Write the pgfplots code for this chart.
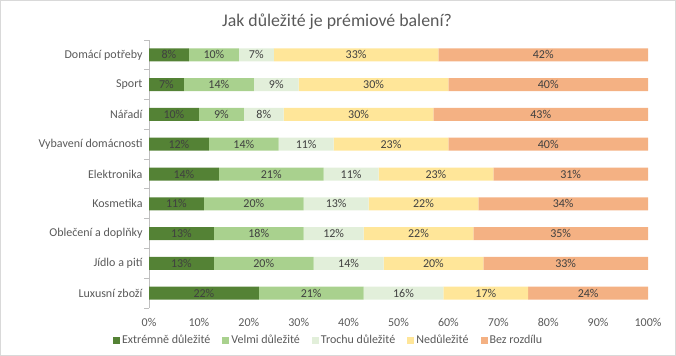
\documentclass[border=0pt]{standalone}
\usepackage{pgfplots}
\pgfplotsset{compat=1.18}
\usepackage{pgfplotstable}
\usepackage{fontspec}
\setmainfont{Carlito}
\definecolor{c1}{HTML}{548235}
\definecolor{c2}{HTML}{A9D18E}
\definecolor{c3}{HTML}{E2EFDA}
\definecolor{c4}{HTML}{FFE699}
\definecolor{c5}{HTML}{F4B183}
\definecolor{txt}{HTML}{595959}
\definecolor{lbl}{HTML}{404040}
\pgfplotstableread{
idx a b c d e
0 8 10 7 33 42
1 7 14 9 30 40
2 10 9 8 30 43
3 12 14 11 23 40
4 14 21 11 23 31
5 11 20 13 22 34
6 13 18 12 22 35
7 13 20 14 20 33
8 22 21 16 17 24
}\data
\begin{document}
\begin{tikzpicture}
\path[draw=black!15, line width=1bp] (0.5bp,0.5bp) rectangle (675.5bp,355.5bp);
\node[font=\fontsize{17.8bp}{21bp}\selectfont, text=txt] at (337bp,334bp) {Jak důležité je prémiové balení?};
\begin{axis}[
  at={(149bp,48bp)}, anchor=south west,
  scale only axis, width=499bp, height=268bp,
  xbar stacked, bar width=13bp,
  xmin=0, xmax=100, ymin=-0.5, ymax=8.5,
  y dir=reverse,
  axis y line*=left, axis x line*=bottom,
  x axis line style={draw=none},
  y axis line style={draw=black!25, line width=0.8bp},
  ytick={0,...,8},
  yticklabels={Domácí potřeby, Sport, Nářadí, Vybavení domácnosti, Elektronika, Kosmetika, Oblečení a doplňky, Jídlo a pití, Luxusní zboží},
  minor ytick={-0.5,0.5,...,8.5},
  major tick length=0pt, minor tick length=5bp,
  tick align=outside,
  ytick style={draw=none},
  minor y tick style={draw=black!25, line width=0.8bp},
  xtick={0,10,...,100},
  xtick style={draw=none},
  xticklabel={\pgfmathprintnumber{\tick}\%},
  /pgf/number format/assume math mode=true,
  ticklabel style={font=\fontsize{12bp}{14bp}\selectfont, text=txt},
  xticklabel style={yshift=-7bp},
  yticklabel style={xshift=-3bp},
  nodes near coords={\pgfmathprintnumber{\pgfplotspointmeta}\%},
  every node near coord/.append style={font=\fontsize{12bp}{14bp}\selectfont, text=lbl, anchor=center},
  legend style={at={(0.36,-0.12)}, anchor=center, draw=none, fill=none,
    font=\fontsize{12bp}{14bp}\selectfont, text=txt,
    /tikz/every even column/.append style={column sep=10bp}},
  legend columns=5,
  legend image code/.code={\fill[#1] (0bp,-3.5bp) rectangle (7bp,3.5bp);},
]
\addplot[fill=c1, draw=none] table[x=a, y=idx] {\data};
\addplot[fill=c2, draw=none] table[x=b, y=idx] {\data};
\addplot[fill=c3, draw=none] table[x=c, y=idx] {\data};
\addplot[fill=c4, draw=none] table[x=d, y=idx] {\data};
\addplot[fill=c5, draw=none] table[x=e, y=idx] {\data};
\legend{Extrémně důležité, Velmi důležité, Trochu důležité, Nedůležité, Bez rozdílu}
\end{axis}
\end{tikzpicture}
\end{document}
